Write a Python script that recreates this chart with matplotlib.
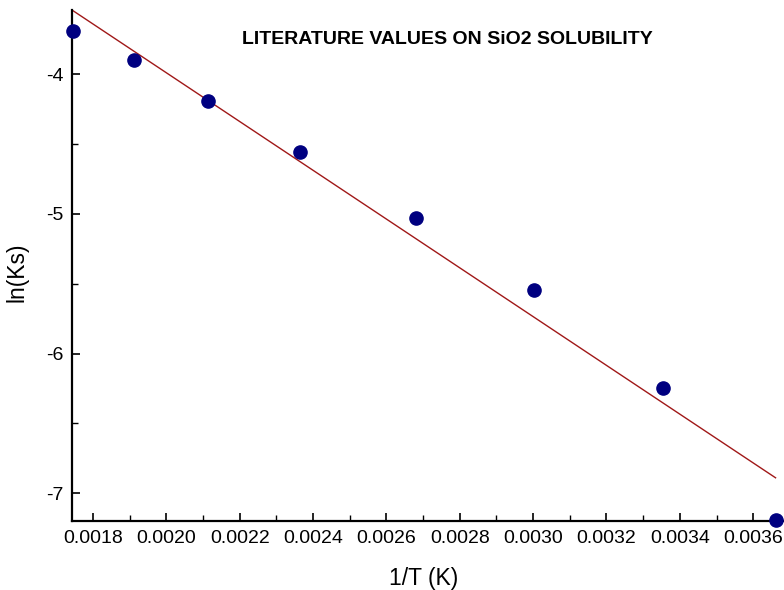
import numpy as np
import matplotlib.pyplot as plt
from matplotlib.ticker import MultipleLocator

plt.rcParams['font.family'] = ['Liberation Sans', 'DejaVu Sans']

# temperatures (K) and measured solubility constants
T = [573.15, 523.15, 473.15, 423.15, 373.15, 333.15, 298.15, 273.15]
ln_ks = [-3.69, -3.90, -4.19, -4.56, -5.03, -5.545, -6.25, -7.19]

inv_T = 1.0 / np.array(T)
ln_ks = np.array(ln_ks)

# linear fit ln(Ks) = a*(1/T) + b
a, b = np.polyfit(inv_T, ln_ks, 1)

fig = plt.figure(figsize=(7.84, 5.9), dpi=100)
ax = fig.add_axes([72/784, 1 - 520.7/590, 1 - 72/784, (520.7 - 10)/590])

xlo, xhi = 0.0017427, 0.003684
ylo, yhi = -7.196, -3.542
xx = np.array([xlo, inv_T.max()])
ax.plot(xx, a*xx + b, color='#a01818', lw=1.0, zorder=2)
ax.plot(inv_T, ln_ks, 'o', color='#000080', ms=9.5, clip_on=False, zorder=3)

ax.set_xlim(xlo, xhi)
ax.set_ylim(ylo, yhi)

ax.spines['top'].set_visible(False)
ax.spines['right'].set_visible(False)
ax.spines['left'].set_linewidth(1.6)
ax.spines['bottom'].set_linewidth(1.6)

ax.xaxis.set_major_locator(MultipleLocator(0.0002))
ax.xaxis.set_minor_locator(MultipleLocator(0.0001))
ax.yaxis.set_major_locator(MultipleLocator(1))
ax.yaxis.set_minor_locator(MultipleLocator(0.5))
ax.xaxis.set_major_formatter(plt.FuncFormatter(lambda v, p: '%.4f' % v))
ax.yaxis.set_major_formatter(plt.FuncFormatter(lambda v, p: '%d' % round(v)))

ax.tick_params(which='major', direction='in', length=6, width=1.2, labelsize=14)
ax.tick_params(axis='x', which='major', pad=7)
ax.tick_params(axis='y', which='major', pad=6)
ax.tick_params(which='minor', direction='in', length=4, width=1.0)

fig.text(424/784, 1 - 578/590, '1/T (K)', ha='center', va='center', fontsize=16.5)
fig.text(17/784, 1 - 272/590, 'ln(Ks)', ha='center', va='center', rotation=90, fontsize=16.5)
fig.text(447/784, 1 - 40/590, 'LITERATURE VALUES ON SiO2 SOLUBILITY',
         ha='center', va='center', fontsize=14, fontweight='bold')

fig.savefig('out.png', dpi=100)
